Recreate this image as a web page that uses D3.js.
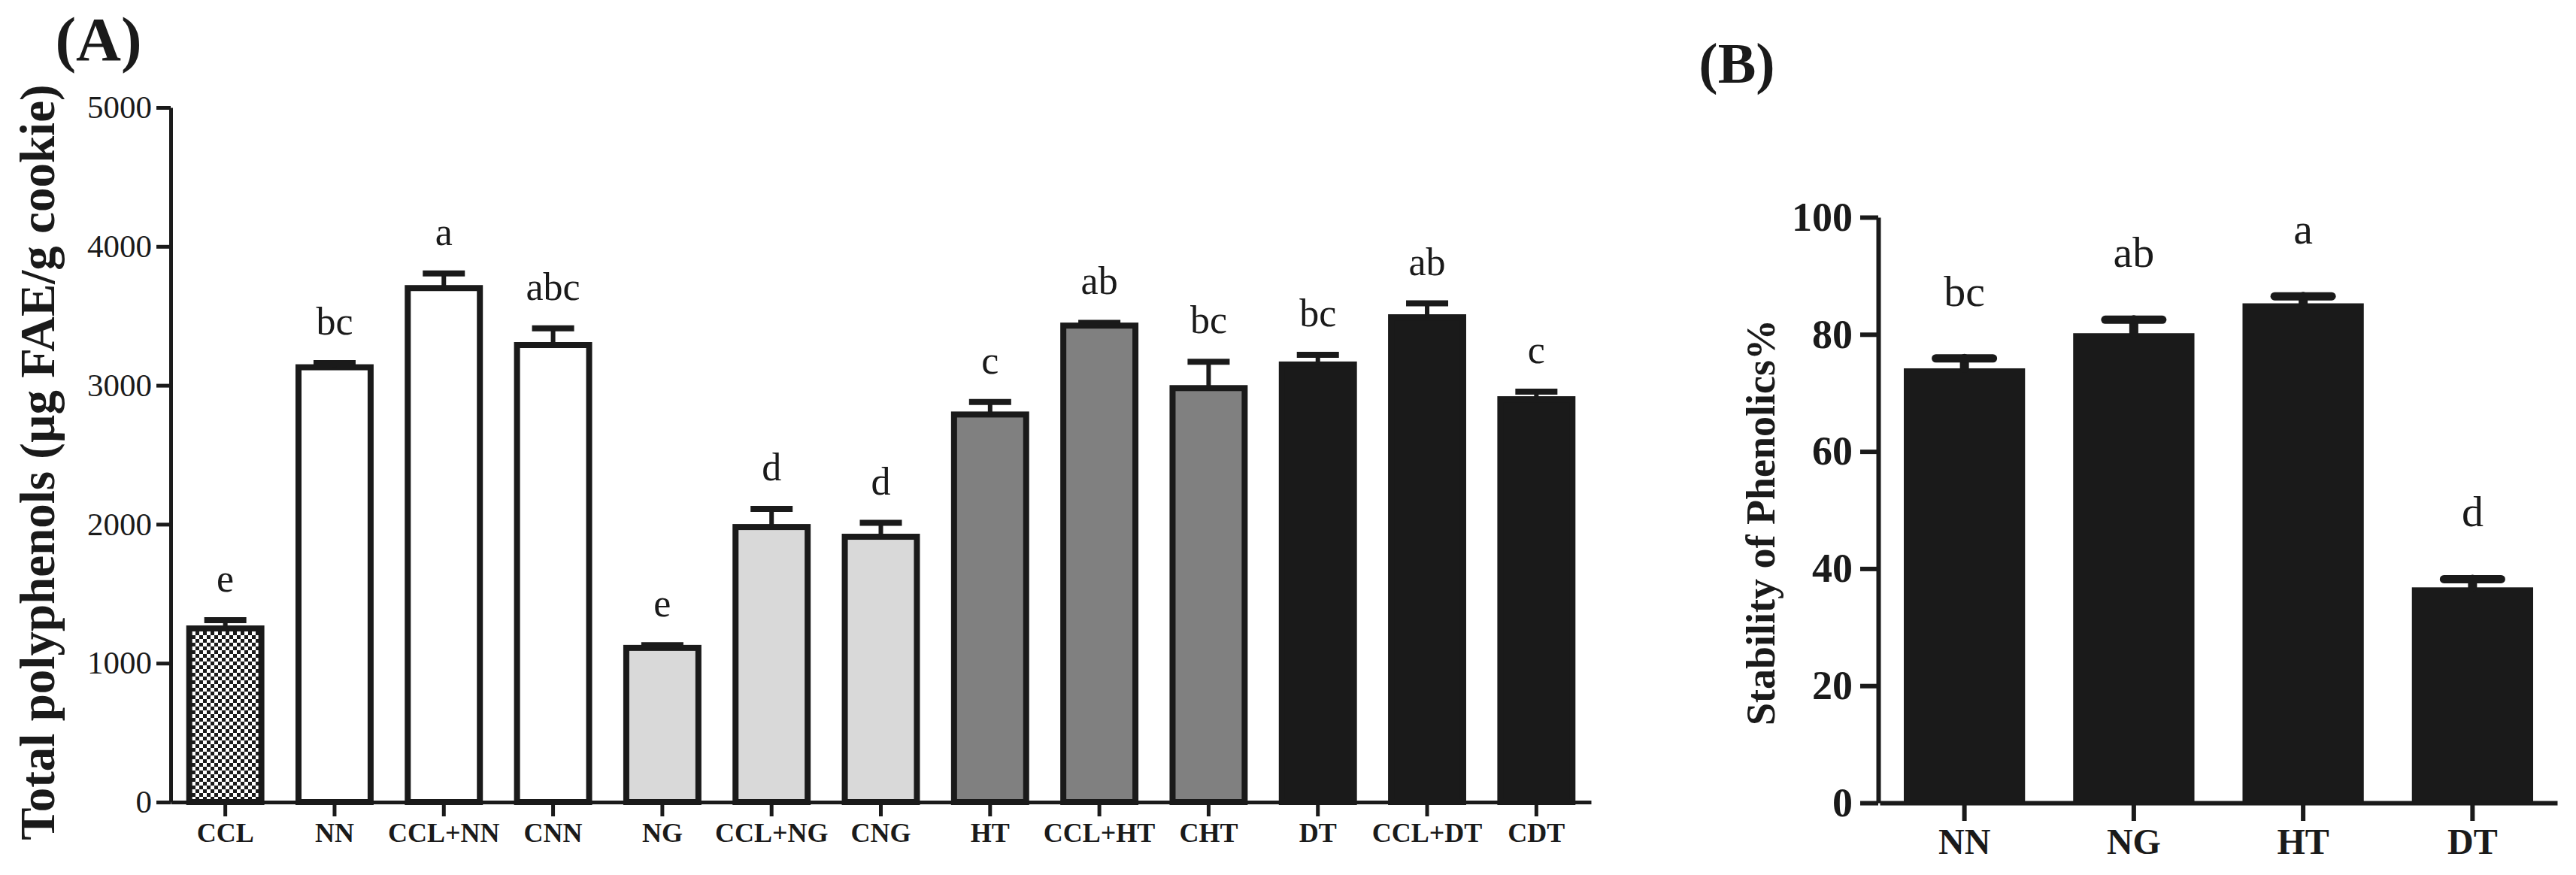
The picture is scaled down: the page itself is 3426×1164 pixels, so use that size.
<!DOCTYPE html>
<html>
<head>
<meta charset="utf-8">
<script src="https://cdn.jsdelivr.net/npm/d3@7"></script>
<style>
  body { margin: 0; background: #fff; }
  text { font-family: "Liberation Serif", "Times New Roman", serif; fill: #1a1a1a; }
</style>
</head>
<body>
<div id="chart"></div>
<script>
// panel A data
var samplesA = ["CCL", "NN", "CCL+NN", "CNN", "NG", "CCL+NG", "CNG", "HT", "CCL+HT", "CHT", "DT", "CCL+DT", "CDT"];
var treatmentA = ["CCL", "NN", "NN", "NN", "NG", "NG", "NG", "HT", "HT", "HT", "DT", "DT", "DT"];
var polyphenols = [1250, 3130, 3700, 3290, 1110, 1980, 1910, 2790, 3430, 2980, 3150, 3490, 2900];
var polyErr = [60, 30, 105, 120, 20, 130, 100, 90, 20, 190, 70, 100, 55];
var lettersA = ["e", "bc", "a", "abc", "e", "d", "d", "c", "ab", "bc", "bc", "ab", "c"];
var ticksA = [0, 1000, 2000, 3000, 4000, 5000];

// panel B data
var samplesB = ["NN", "NG", "HT", "DT"];
var stability = [74.2, 80.2, 85.3, 36.8];
var stabErr = [1.7, 2.3, 1.2, 1.4];
var lettersB = ["bc", "ab", "a", "d"];
var ticksB = [0, 20, 40, 60, 80, 100];

var ink = "#1a1a1a";
var fills = {CCL: "url(#checker)", NN: "#ffffff", NG: "#d9d9d9", HT: "#808080", DT: "#1a1a1a"};

var svg = d3.select("#chart").append("svg")
  .attr("width", 3426)
  .attr("height", 1164);

// checker pattern for CCL
var pat = svg.append("defs").append("pattern")
  .attr("id", "checker")
  .attr("width", 10).attr("height", 10)
  .attr("patternUnits", "userSpaceOnUse");
pat.append("rect").attr("width", 10).attr("height", 10).attr("fill", "#fff");
pat.append("rect").attr("width", 5).attr("height", 5).attr("fill", ink);
pat.append("rect").attr("x", 5).attr("y", 5).attr("width", 5).attr("height", 5).attr("fill", ink);

function styleAxis(g, w) {
  g.select(".domain").attr("stroke", ink).attr("stroke-width", w);
  g.selectAll(".tick line").attr("stroke", ink).attr("stroke-width", w);
}

// ---------- panel A ----------
var xA = d3.scaleBand().domain(samplesA).range([227, 2116]).paddingInner(0.34).paddingOuter(0.17);
var yA = d3.scaleLinear().domain([0, 5000]).range([1067, 143]);

var barsA = svg.append("g");
barsA.selectAll("rect").data(samplesA).enter().append("rect")
  .attr("x", function(d) { return xA(d); })
  .attr("y", function(d, i) { return yA(polyphenols[i]); })
  .attr("width", xA.bandwidth())
  .attr("height", function(d, i) { return yA(0) - yA(polyphenols[i]); })
  .attr("fill", function(d, i) { return fills[treatmentA[i]]; })
  .attr("stroke", ink)
  .attr("stroke-width", 8);

var errA = svg.append("g").attr("stroke", ink);
samplesA.forEach(function(d, i) {
  var cx = xA(d) + xA.bandwidth() / 2;
  var top = yA(polyphenols[i] + polyErr[i]);
  errA.append("line").attr("x1", cx).attr("x2", cx)
    .attr("y1", yA(polyphenols[i])).attr("y2", top).attr("stroke-width", 6);
  errA.append("line").attr("x1", cx - 28).attr("x2", cx + 28)
    .attr("y1", top).attr("y2", top).attr("stroke-width", 8);
  svg.append("text").attr("x", cx).attr("y", top - 38)
    .attr("text-anchor", "middle").attr("font-size", 52)
    .text(lettersA[i]);
});

var axA = svg.append("g").attr("transform", "translate(227,0)")
  .call(d3.axisLeft(yA).tickValues(ticksA).tickSize(19).tickSizeOuter(0).tickPadding(6).tickFormat(d3.format("d")));
styleAxis(axA, 5);
axA.selectAll("text").attr("font-size", 43).attr("fill", ink);

var axAx = svg.append("g").attr("transform", "translate(0,1067)")
  .call(d3.axisBottom(xA).tickSize(19).tickSizeOuter(0).tickPadding(8));
styleAxis(axAx, 5);
axAx.selectAll("text").attr("font-size", 36).attr("font-weight", "bold").attr("fill", ink);

svg.append("text")
  .attr("transform", "translate(72,615) rotate(-90)")
  .attr("text-anchor", "middle")
  .attr("font-size", 65).attr("font-weight", "bold")
  .text("Total polyphenols (µg FAE/g cookie)");

svg.append("text").attr("x", 131).attr("y", 80)
  .attr("text-anchor", "middle").attr("font-size", 83).attr("font-weight", "bold")
  .text("(A)");

// ---------- panel B ----------
var xB = d3.scaleBand().domain(samplesB).range([2500, 3401]).paddingInner(0.284).paddingOuter(0.142);
var yB = d3.scaleLinear().domain([0, 100]).range([1068, 289]);

svg.append("g").selectAll("rect").data(samplesB).enter().append("rect")
  .attr("x", function(d) { return xB(d); })
  .attr("y", function(d, i) { return yB(stability[i]); })
  .attr("width", xB.bandwidth())
  .attr("height", function(d, i) { return yB(0) - yB(stability[i]); })
  .attr("fill", ink);

var errB = svg.append("g").attr("stroke", ink).attr("stroke-linecap", "round");
samplesB.forEach(function(d, i) {
  var cx = xB(d) + xB.bandwidth() / 2;
  var top = yB(stability[i] + stabErr[i]);
  errB.append("line").attr("x1", cx).attr("x2", cx)
    .attr("y1", yB(stability[i])).attr("y2", top).attr("stroke-width", 12);
  errB.append("line").attr("x1", cx - 38).attr("x2", cx + 38)
    .attr("y1", top).attr("y2", top).attr("stroke-width", 11);
  svg.append("text").attr("x", cx).attr("y", top - 70)
    .attr("text-anchor", "middle").attr("font-size", 58)
    .text(lettersB[i]);
});

var axB = svg.append("g").attr("transform", "translate(2498,0)")
  .call(d3.axisLeft(yB).tickValues(ticksB).tickSize(24).tickSizeOuter(0).tickPadding(10));
styleAxis(axB, 6);
axB.selectAll("text").attr("font-size", 54).attr("font-weight", "bold").attr("fill", ink);

var axBx = svg.append("g").attr("transform", "translate(0,1068)")
  .call(d3.axisBottom(xB).tickSize(24).tickSizeOuter(0).tickPadding(10));
styleAxis(axBx, 6);
axBx.selectAll("text").attr("font-size", 48).attr("font-weight", "bold").attr("fill", ink);

svg.append("text")
  .attr("transform", "translate(2360,695) rotate(-90)")
  .attr("text-anchor", "middle")
  .attr("font-size", 54).attr("font-weight", "bold")
  .text("Stability of Phenolics%");

svg.append("text").attr("x", 2310).attr("y", 110)
  .attr("text-anchor", "middle").attr("font-size", 76).attr("font-weight", "bold")
  .text("(B)");
</script>
</body>
</html>
